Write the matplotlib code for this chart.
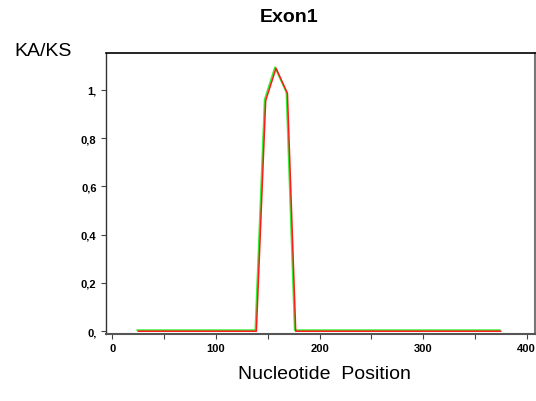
import numpy as np
from matplotlib import pyplot as plt
from matplotlib.transforms import offset_copy

# KA/KS ratio along exon 1
position = [25, 139, 148, 158, 169, 177, 375]
ka_ks = [0.0, 0.0, 0.956, 1.090, 0.986, 0.0, 0.0]

y_ticks = [0, 0.2, 0.4, 0.6, 0.8, 1.0]
y_tick_labels = ["0,", "0,2", "0,4", "0,6", "0,8", "1,"]
x_ticks = [0, 100, 200, 300, 400]
x_minor = [50, 150, 250, 350]

plt.rcParams['font.family'] = ['Liberation Sans', 'DejaVu Sans']

fig = plt.figure(figsize=(5.36, 4.02), dpi=100)
ax = fig.add_axes([0.197, 0.167, 0.801, 0.698])

# green trace sits one pixel up/left of the red one
shift = offset_copy(ax.transData, fig=fig, x=-1, y=1, units='dots')
ax.plot(position, ka_ks, color="#33ee33", lw=1.3, transform=shift)
ax.plot(position, ka_ks, color="#ff1a1a", lw=1.1)

ax.set_xlim(-6.6, 408)
ax.set_ylim(-0.011, 1.152)

ax.set_yticks(y_ticks)
ax.set_yticklabels(y_tick_labels, fontsize=8, fontweight="bold")
ax.set_xticks(x_ticks)
ax.set_xticklabels([str(v) for v in x_ticks], fontsize=8, fontweight="bold")
ax.set_xticks(x_minor, minor=True)
ax.tick_params(axis="both", which="both", direction="out", length=3.5, width=0.8, color="#444444")
ax.tick_params(axis="y", pad=3)
ax.tick_params(axis="x", pad=3)

ax.spines["top"].set_color("black")
ax.spines["top"].set_linewidth(1.2)
ax.spines["right"].set_color("#777777")
ax.spines["right"].set_linewidth(1.5)
ax.spines["left"].set_color("#333333")
ax.spines["left"].set_linewidth(1.0)
ax.spines["bottom"].set_color("#555555")
ax.spines["bottom"].set_linewidth(1.5)

fig.text(289 / 536, 1 - 18 / 402, "Exon1", ha="center", va="center", fontsize=14, fontweight="bold")
fig.text(43 / 536, 1 - 51 / 402, "KA/KS", ha="center", va="center", fontsize=14)
fig.text(324 / 536, 1 - 375 / 402, "Nucleotide  Position", ha="center", va="center", fontsize=14)

fig.savefig("out.png", dpi=100)
